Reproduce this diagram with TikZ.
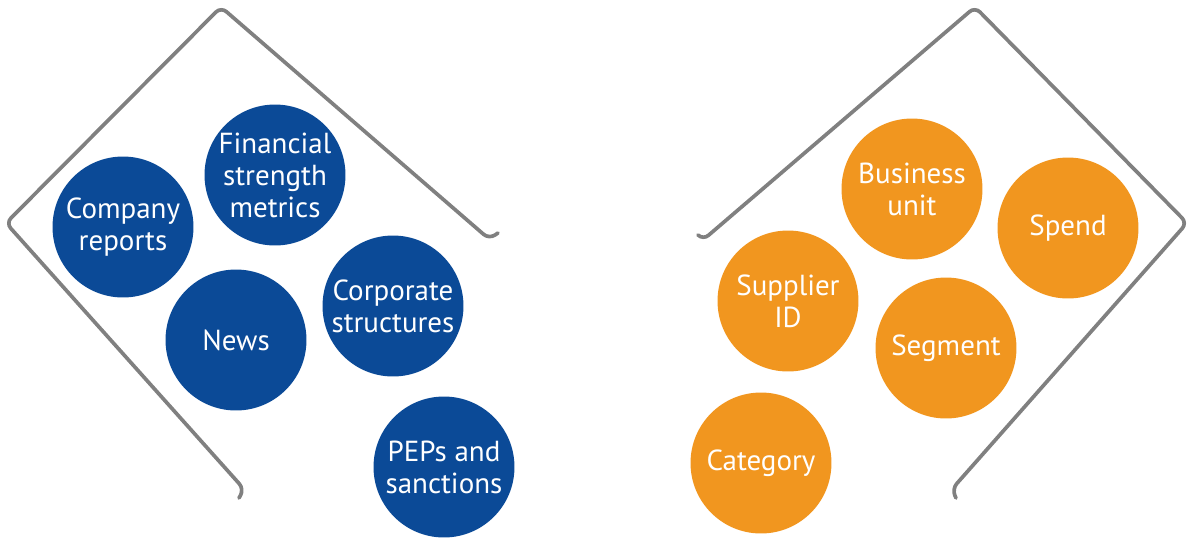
\documentclass[tikz,border=0pt]{standalone}
\usepackage{fontspec}
\setmainfont{PT Sans}
\usetikzlibrary{positioning}
\definecolor{dataBlue}{HTML}{0B4A97}
\definecolor{dataOrange}{HTML}{F1961F}
\definecolor{frameGray}{HTML}{808080}

\begin{document}
\begin{tikzpicture}[x=0.02cm, y=-0.02cm,
    every node/.style={font=\fontsize{16.5}{18.2}\selectfont},
    bubble/.style={circle, minimum size=2.82cm, inner sep=0pt, align=center, text=white},
    blueBubble/.style={bubble, fill=dataBlue},
    orangeBubble/.style={bubble, fill=dataOrange},
    bracket/.style={draw=frameGray, line width=2.1pt, rounded corners=4pt, line cap=round, line join=round}]
		\useasboundingbox (0,0) rectangle (1188,539);
		
		\begin{scope}
			\draw[bracket] (498,233) -- (489,239) -- (221,7) -- (6,223) -- (244,489) -- (239,498);
			\node[blueBubble] (reports) at (123,227) {Company\\reports};
			\node[blueBubble] (finance) at (275,175) {Financial\\strength\\metrics};
			\node[blueBubble] (news) at (236,340) {News};
			\node[blueBubble] (corporate) at (393,306) {Corporate\\structures};
			\node[blueBubble] (peps) at (444,467) {PEPs and\\sanctions};
		\end{scope}
		
		\begin{scope}
			\draw[bracket] (698,235) -- (703,240) -- (975,7) -- (1187,223) -- (952,489) -- (956,498);
			\node[orangeBubble] (unit) at (912,189) {Business\\unit};
			\node[orangeBubble] (spend) at (1068,228) {Spend};
			\node[orangeBubble] (supplier) at (788,301) {Supplier\\ID};
			\node[orangeBubble] (segment) at (946,348) {Segment};
			\node[orangeBubble] (category) at (761,463) {Category};
		\end{scope}
	\end{tikzpicture}
\end{document}
